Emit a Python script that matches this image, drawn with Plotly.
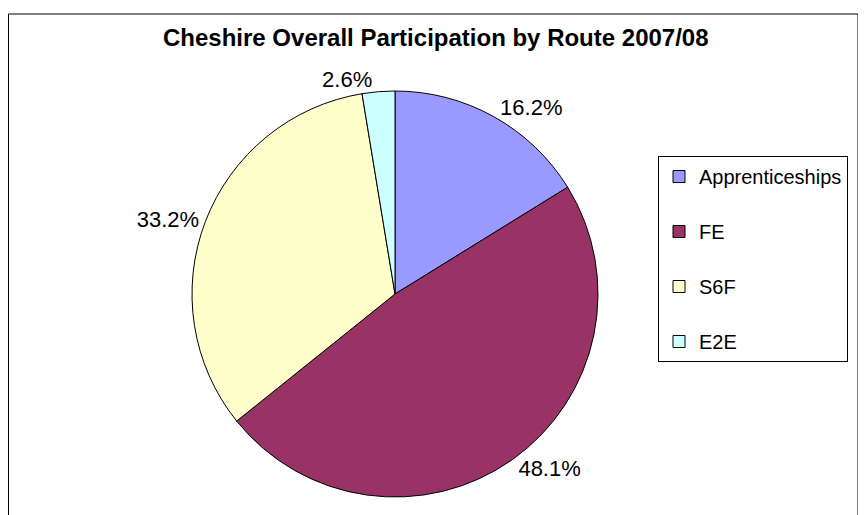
import plotly.graph_objects as go

categories = ["Apprenticeships", "FE", "S6F", "E2E"]
values = [16.2, 48.1, 33.2, 2.6]
colors = ["#9999FF", "#993366", "#FFFFCC", "#CCFFFF"]
title_text = "Cheshire Overall Participation by Route 2007/08"

W, H = 866, 515
OFF = 8  # page body margin offset


def px_x(x):
    return (x - OFF) / W


def px_y(y):
    return 1 - (y - OFF) / H


cx, cy, r = 395, 294, 203

# extra blank line gives the legend its wide row spacing (not after the last)
legend_labels = [c + "<br> " for c in categories[:-1]] + [categories[-1]]

fig = go.Figure(go.Pie(
    labels=legend_labels,
    values=values,
    sort=False,
    direction="clockwise",
    rotation=0,
    marker=dict(colors=colors, line=dict(color="#000000", width=1)),
    texttemplate="%{value:.1f}%",
    textposition="outside",
    textfont=dict(family="Arial, Liberation Sans", size=22, color="#000000"),
    hoverinfo="label+value",
    domain=dict(x=[px_x(cx - r), px_x(cx + r)],
                y=[px_y(cy + r), px_y(cy - r)]),
))

fig.update_layout(
    width=W, height=H,
    margin=dict(l=0, r=0, t=0, b=0),
    paper_bgcolor="white",
    plot_bgcolor="white",
    showlegend=True,
    legend=dict(
        x=px_x(658), y=px_y(156), xanchor="left", yanchor="top",
        bordercolor="#000000", borderwidth=1, bgcolor="white",
        font=dict(family="Arial, Liberation Sans", size=20, color="#000000"),
        valign="top",
    ),
    annotations=[dict(
        text="<b>" + title_text + "</b>",
        x=px_x(436), y=px_y(38), xref="paper", yref="paper",
        xanchor="center", yanchor="middle", showarrow=False,
        font=dict(family="Arial, Liberation Sans", size=24, color="#000000"),
    )],
    shapes=[dict(
        type="rect", xref="paper", yref="paper",
        x0=0.5 / W, x1=px_x(858), y0=-0.05, y1=px_y(14),
        line=dict(color="#000000", width=1), fillcolor="rgba(0,0,0,0)",
        layer="below",
    )],
)

fig.write_html("out.html")
